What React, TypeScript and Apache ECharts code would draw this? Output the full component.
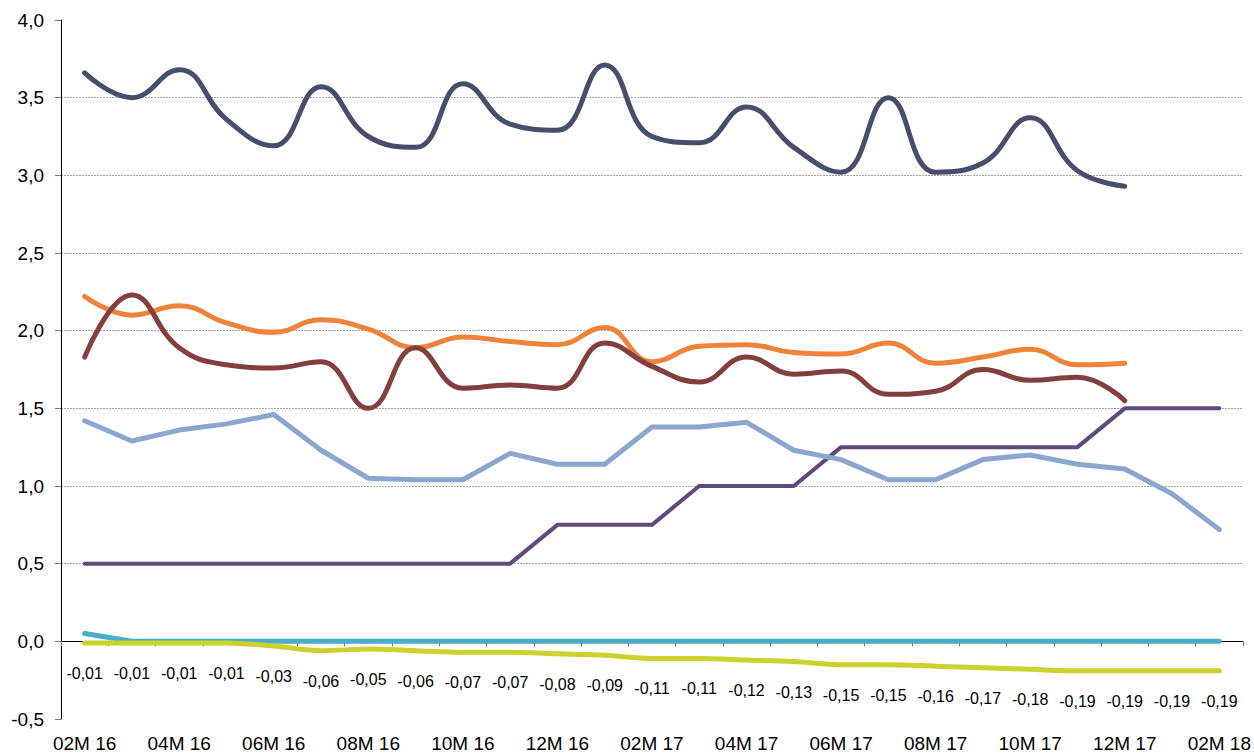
import React, { useEffect, useRef } from "react";
import * as echarts from "echarts";

const categories = [
  "02M 16", "03M 16", "04M 16", "05M 16", "06M 16", "07M 16", "08M 16", "09M 16",
  "10M 16", "11M 16", "12M 16", "01M 17", "02M 17", "03M 17", "04M 17", "05M 17",
  "06M 17", "07M 17", "08M 17", "09M 17", "10M 17", "11M 17", "12M 17", "01M 18", "02M 18",
];

const navySeries = [3.66, 3.5, 3.68, 3.36, 3.19, 3.57, 3.25, 3.18, 3.59, 3.33, 3.29, 3.71, 3.25, 3.21, 3.44, 3.18, 3.02, 3.5, 3.02, 3.08, 3.37, 3.03, 2.93];
const orangeSeries = [2.22, 2.1, 2.16, 2.05, 1.99, 2.07, 2.01, 1.89, 1.96, 1.93, 1.91, 2.02, 1.8, 1.9, 1.91, 1.86, 1.85, 1.92, 1.79, 1.83, 1.88, 1.78, 1.79];
const brownSeries = [1.83, 2.23, 1.89, 1.78, 1.76, 1.8, 1.5, 1.89, 1.63, 1.65, 1.63, 1.92, 1.77, 1.67, 1.83, 1.72, 1.74, 1.59, 1.61, 1.75, 1.68, 1.7, 1.55];
const purpleSeries = [0.5, 0.5, 0.5, 0.5, 0.5, 0.5, 0.5, 0.5, 0.5, 0.5, 0.75, 0.75, 0.75, 1.0, 1.0, 1.0, 1.25, 1.25, 1.25, 1.25, 1.25, 1.25, 1.5, 1.5, 1.5];
const lightBlueSeries = [1.42, 1.29, 1.36, 1.4, 1.46, 1.23, 1.05, 1.04, 1.04, 1.21, 1.14, 1.14, 1.38, 1.38, 1.41, 1.23, 1.17, 1.04, 1.04, 1.17, 1.2, 1.14, 1.11, 0.95, 0.72];
const tealSeries = [0.05, 0, 0, 0, 0, 0, 0, 0, 0, 0, 0, 0, 0, 0, 0, 0, 0, 0, 0, 0, 0, 0, 0, 0, 0];
const yellowSeries = [-0.01, -0.01, -0.01, -0.01, -0.03, -0.06, -0.05, -0.06, -0.07, -0.07, -0.08, -0.09, -0.11, -0.11, -0.12, -0.13, -0.15, -0.15, -0.16, -0.17, -0.18, -0.19, -0.19, -0.19, -0.19];

const FONT = "'Liberation Sans', Arial, sans-serif";

function lineSeries(name: string, data: number[], color: string, width: number, smooth: number | boolean) {
  return {
    name,
    type: "line",
    data,
    xAxisIndex: 1,
    smooth,
    symbol: "none",
    lineStyle: { color, width, cap: "round", join: "round" },
    itemStyle: { color },
  };
}

export default function App() {
  const ref = useRef<HTMLDivElement>(null);
  useEffect(() => {
    if (!ref.current) return;
    const chart = echarts.init(ref.current, undefined, { renderer: "svg" });
    chart.setOption({
      animation: false,
      backgroundColor: "#ffffff",
      grid: { left: 61, right: 11, top: 20, bottom: 33, containLabel: false },
      xAxis: [
        {
          type: "category",
          data: categories,
          position: "bottom",
          boundaryGap: true,
          axisLine: { show: false, onZero: false },
          axisTick: { show: false },
          axisLabel: {
            interval: 1,
            color: "#000",
            fontSize: 19,
            fontFamily: FONT,
            margin: 15,
          },
          splitLine: { show: false },
        },
        {
          type: "category",
          data: categories,
          position: "bottom",
          boundaryGap: true,
          axisLine: { show: true, onZero: true, lineStyle: { color: "#000", width: 1 } },
          axisTick: { show: true, inside: false, length: 5, interval: 0, lineStyle: { color: "#777" } },
          axisLabel: { show: false },
          splitLine: { show: false },
        },
      ],
      yAxis: {
        type: "value",
        min: -0.5,
        max: 4,
        interval: 0.5,
        axisLine: { show: true, lineStyle: { color: "#000", width: 1 } },
        axisTick: { show: true, length: 6, lineStyle: { color: "#777" } },
        axisLabel: {
          color: "#000",
          fontSize: 19,
          fontFamily: FONT,
          margin: 17,
          formatter: (v: number) => v.toFixed(1).replace(".", ","),
        },
        splitLine: {
          show: true,
          showMinLine: false,
          showMaxLine: false,
          lineStyle: { color: "#a6a6a6", type: [2, 1], width: 1 },
        },
      },
      series: [
        lineSeries("navy", navySeries, "#484d6c", 5, 0.45),
        lineSeries("orange", orangeSeries, "#f0823a", 5, 0.45),
        lineSeries("brown", brownSeries, "#823f3e", 5, 0.45),
        lineSeries("purple", purpleSeries, "#5f4a7c", 4, false),
        lineSeries("lightblue", lightBlueSeries, "#8ba6cf", 5, false),
        lineSeries("teal", tealSeries, "#4badc8", 5, false),
        {
          ...lineSeries("yellow", yellowSeries, "#cbd22d", 5, 0.3),
          symbol: "circle",
          symbolSize: 1,
          showSymbol: true,
          itemStyle: { color: "rgba(0,0,0,0)" },
          labelLayout: { hideOverlap: false },
          label: {
            show: true,
            position: "bottom",
            distance: 22,
            color: "#000",
            fontSize: 16,
            fontFamily: FONT,
            formatter: (p: any) => Number(p.value).toFixed(2).replace(".", ","),
          },
        },
      ],
    });
    return () => chart.dispose();
  }, []);
  return (
    <div
      ref={ref}
      style={{ position: "fixed", left: 0, top: 0, width: 1254, height: 753, background: "#fff" }}
    />
  );
}
